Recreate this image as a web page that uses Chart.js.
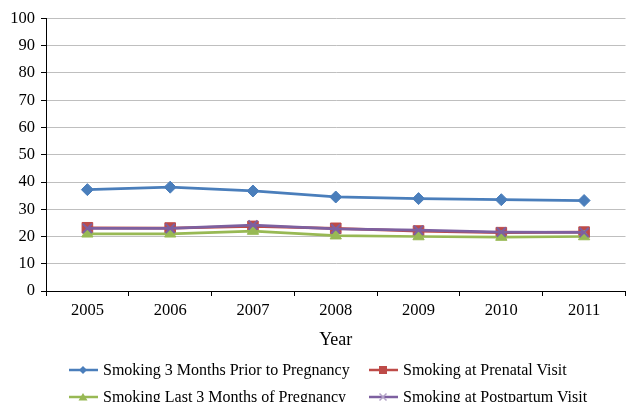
<!DOCTYPE html>
<html>
<head>
<meta charset="utf-8">
<script src="https://cdn.jsdelivr.net/npm/chart.js@4/dist/chart.umd.min.js"></script>
<style>
  html, body { margin: 0; padding: 0; background: #fff; overflow: hidden; }
  #wrap { position: relative; width: 630px; height: 402px; overflow: hidden; }
  #chartBox { position: absolute; left: 0; top: 0; width: 634px; height: 402px; }
  .legend-item { position: absolute; display: flex; align-items: center; height: 24px;
    font-family: "Liberation Serif", "Times New Roman", serif; font-size: 16px; color: #000; white-space: nowrap; }
  .legend-item svg { margin-right: 5px; }
</style>
</head>
<body>
<div id="wrap">
  <div id="chartBox"><canvas id="c" width="634" height="402"></canvas></div>
  <div id="legend"></div>
</div>
<script>
// Smoking prevalence (%) by year
const years = ["2005", "2006", "2007", "2008", "2009", "2010", "2011"];
const priorToPregnancy = [37.2, 38.1, 36.7, 34.5, 33.9, 33.5, 33.2];
const prenatalVisit    = [23.2, 23.1, 23.7, 23.0, 22.0, 21.4, 21.6];
const last3Months      = [21.0, 21.0, 22.0, 20.3, 20.0, 19.8, 20.0];
const postpartumVisit  = [23.0, 23.0, 24.2, 22.8, 22.3, 21.6, 21.5];
const seriesNames = [
  "Smoking 3 Months Prior to Pregnancy",
  "Smoking at Prenatal Visit",
  "Smoking Last 3 Months of Pregnancy",
  "Smoking at Postpartum Visit"
];
const yTicks = [0, 10, 20, 30, 40, 50, 60, 70, 80, 90, 100];

const BLUE = "#4A7EBB", RED = "#BE4B48", GREEN = "#98B954", PURPLE = "#7D60A0";
const serif = "'Liberation Serif', 'Times New Roman', serif";

function series(label, data, color, style, radius, order) {
  return {
    label, data, order,
    borderColor: color, backgroundColor: color,
    borderWidth: 2.75,
    pointStyle: style, pointRadius: radius, pointHoverRadius: radius,
    pointBackgroundColor: color, pointBorderColor: color,
    pointBorderWidth: style === "crossRot" ? 2 : 1,
    tension: 0
  };
}

new Chart(document.getElementById("c"), {
  type: "line",
  data: {
    labels: years,
    datasets: [
      series(seriesNames[0], priorToPregnancy, BLUE, "rectRot", 6, 3),
      series(seriesNames[1], prenatalVisit, RED, "rect", 7.5, 2),
      series(seriesNames[2], last3Months, GREEN, "triangle", 6.5, 1),
      series(seriesNames[3], postpartumVisit, PURPLE, "crossRot", 6.5, 0)
    ]
  },
  options: {
    responsive: false,
    animation: false,
    layout: { padding: { top: 18.5, right: 2, bottom: 51, left: 0 } },
    plugins: { legend: { display: false }, tooltip: { enabled: false } },
    scales: {
      x: {
        offset: true,
        grid: { offset: true, drawOnChartArea: false, drawTicks: true, tickLength: 5, tickColor: "#000", tickWidth: 1 },
        border: { color: "#000", width: 1 },
        ticks: { color: "#000", font: { family: serif, size: 16.5 }, padding: 5, maxRotation: 0 },
        title: { display: true, text: "Year", color: "#000", font: { family: serif, size: 18 }, padding: 0 },
        afterFit: s => { s.height = 60; }
      },
      y: {
        min: 0, max: 100,
        afterBuildTicks: s => { s.ticks = yTicks.map(v => ({ value: v })); },
        grid: { color: "#BFBFBF", lineWidth: 1, tickLength: 5, tickColor: "#000" },
        border: { color: "#000", width: 1 },
        ticks: { color: "#000", font: { family: serif, size: 16.5 }, padding: 6 },
        afterFit: s => { s.width = 46; }
      }
    }
  }
});

// Excel-style legend: line segment with marker, laid out in two columns
const legendSpec = [
  { name: seriesNames[0], color: BLUE,   mark: "diamond",  x: 69,  y: 358 },
  { name: seriesNames[1], color: RED,    mark: "square",   x: 369, y: 358 },
  { name: seriesNames[2], color: GREEN,  mark: "triangle", x: 69,  y: 385 },
  { name: seriesNames[3], color: PURPLE, mark: "cross",    x: 369, y: 385 }
];
function markerSvg(color, mark) {
  let m = "";
  if (mark === "diamond") m = `<polygon points="14,7 18,11 14,15 10,11" fill="${color}"/>`;
  if (mark === "square") m = `<rect x="10" y="7" width="8" height="8" fill="${color}"/>`;
  if (mark === "triangle") m = `<polygon points="14,7 18.5,14.5 9.5,14.5" fill="${color}"/>`;
  if (mark === "cross") m = `<path d="M10.5,7.5 L17.5,14.5 M17.5,7.5 L10.5,14.5" stroke="#B3A2C7" stroke-width="1.5"/>`;
  return `<svg width="29" height="22" viewBox="0 0 29 22"><line x1="0" y1="11" x2="29" y2="11" stroke="${color}" stroke-width="2.5"/>${m}</svg>`;
}
const legendEl = document.getElementById("legend");
legendSpec.forEach(it => {
  const d = document.createElement("div");
  d.className = "legend-item";
  d.style.left = it.x + "px";
  d.style.top = it.y + "px";
  d.innerHTML = markerSvg(it.color, it.mark) + `<span>${it.name}</span>`;
  legendEl.appendChild(d);
});
</script>
</body>
</html>
